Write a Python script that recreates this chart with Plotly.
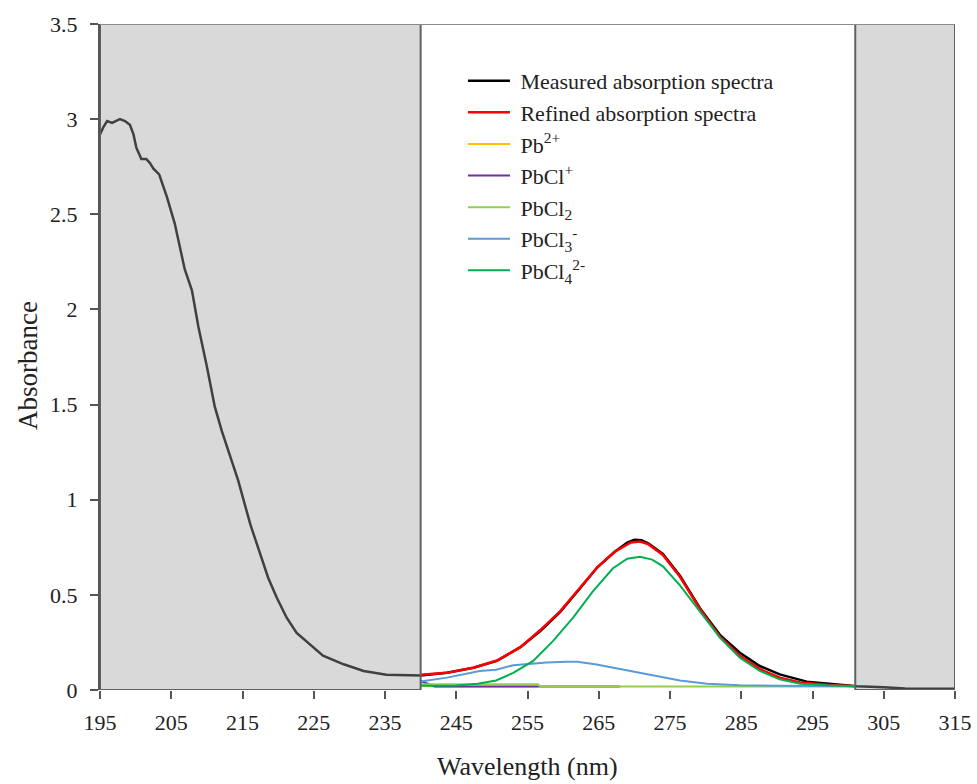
import plotly.graph_objects as go

# ---- data ----
meas_x = [195.0, 195.5, 196.0, 196.7, 197.2, 197.8, 198.5, 199.2, 199.7, 200.1, 200.8, 201.5,
          202.0, 202.5, 203.3, 204.4, 205.5, 206.9, 207.9, 208.8, 210.0, 211.1, 212.1, 213.2,
          214.4, 216.1, 217.5, 218.6, 219.8, 221.2, 222.6, 224.5, 226.3, 229.2, 232.0, 235.2,
          240.0, 243.7, 247.4, 250.7, 254.0, 256.8, 259.6, 262.5, 264.8, 267.2, 269.0, 270.0,
          271.0, 272.0, 274.0, 276.4, 279.2, 282.0, 284.8, 287.6, 290.4, 294.2, 297.9, 301.2,
          305.0, 308.0, 315.0]
meas_y = [2.92, 2.96, 2.99, 2.98, 2.99, 3.00, 2.99, 2.97, 2.92, 2.85, 2.79, 2.79,
          2.77, 2.74, 2.71, 2.59, 2.45, 2.21, 2.10, 1.91, 1.70, 1.49, 1.36, 1.24,
          1.10, 0.87, 0.71, 0.59, 0.486, 0.38, 0.30, 0.24, 0.18, 0.135, 0.10, 0.08,
          0.076, 0.091, 0.117, 0.153, 0.225, 0.31, 0.41, 0.54, 0.645, 0.725, 0.775, 0.79,
          0.787, 0.77, 0.715, 0.60, 0.43, 0.29, 0.196, 0.126, 0.082, 0.044, 0.03, 0.02,
          0.015, 0.008, 0.006]

ref_x = [240.0, 243.7, 247.4, 250.7, 254.0, 256.8, 259.6, 262.5, 264.8, 267.2, 269.5, 270.8,
         272.0, 274.0, 276.4, 279.2, 282.0, 284.8, 287.6, 290.4, 293.3, 297.0, 301.0]
ref_y = [0.08, 0.09, 0.117, 0.155, 0.225, 0.315, 0.415, 0.545, 0.645, 0.725, 0.775, 0.78,
         0.765, 0.71, 0.595, 0.425, 0.28, 0.18, 0.11, 0.065, 0.04, 0.027, 0.02]

pb_x = [240.0, 242.0, 256.4]
pb_y = [0.025, 0.019, 0.018]

pbcl_x = [240.0, 241.0, 242.0, 268.0]
pbcl_y = [0.047, 0.035, 0.019, 0.018]

pbcl2_x = [240.0, 256.5, 256.8, 301.0]
pbcl2_y = [0.03, 0.03, 0.019, 0.018]

pbcl3_x = [240.0, 243.7, 248.3, 250.6, 253.0, 257.7, 260.5, 262.0, 264.7, 269.3, 274.0, 276.4,
           280.2, 284.8, 290.0, 301.0]
pbcl3_y = [0.045, 0.065, 0.10, 0.107, 0.13, 0.145, 0.149, 0.148, 0.134, 0.10, 0.065, 0.05,
           0.033, 0.025, 0.022, 0.02]

pbcl4_x = [240.0, 245.0, 248.0, 250.6, 253.0, 255.8, 258.6, 261.4, 264.2, 267.0, 269.0, 270.8,
           272.5, 274.0, 276.4, 279.2, 282.0, 284.8, 287.6, 290.4, 293.3, 297.0, 301.0]
pbcl4_y = [0.022, 0.024, 0.033, 0.05, 0.09, 0.153, 0.258, 0.38, 0.52, 0.64, 0.69, 0.70,
           0.685, 0.65, 0.55, 0.41, 0.275, 0.17, 0.10, 0.056, 0.033, 0.025, 0.02]

x_ticks = list(range(195, 316, 10))
y_ticks = [0, 0.5, 1, 1.5, 2, 2.5, 3, 3.5]
y_tick_text = ["0", "0.5", "1", "1.5", "2", "2.5", "3", "3.5"]

shade_left = (195, 240)
shade_right = (301, 315)

FONT = "Liberation Serif"
GAP = " "

fig = go.Figure()
series = [
    ("Measured absorption spectra", meas_x, meas_y, "#000000", 2.5),
    ("Refined absorption spectra", ref_x, ref_y, "#ff0000", 2.5),
    ("Pb<sup>2+</sup>", pb_x, pb_y, "#ffc000", 2),
    ("PbCl<sup>+</sup>", pbcl_x, pbcl_y, "#7030a0", 2),
    ("PbCl<sub>2</sub>", pbcl2_x, pbcl2_y, "#92d050", 2),
    ("PbCl<sub>3</sub><sup>-</sup>", pbcl3_x, pbcl3_y, "#5b9bd5", 2),
    ("PbCl<sub>4</sub><sup>2-</sup>", pbcl4_x, pbcl4_y, "#00b050", 2),
]
for name, xs, ys, col, w in series:
    fig.add_trace(go.Scatter(x=xs, y=ys, mode="lines", name=GAP + name,
                             line=dict(color=col, width=w)))

for x0, x1 in (shade_left, shade_right):
    fig.add_shape(type="rect", xref="x", yref="y", x0=x0, x1=x1, y0=0, y1=3.5,
                  fillcolor="rgba(160,160,160,0.4)", line=dict(color="#626262", width=2),
                  layer="above")
fig.add_shape(type="line", xref="x", yref="y", x0=195, x1=315, y0=3.5, y1=3.5,
              line=dict(color="#8c8c8c", width=2), layer="above")

fig.add_annotation(text="Wavelength (nm)", xref="paper", yref="paper", x=0.5, y=0,
                   yshift=-76, showarrow=False, xanchor="center", yanchor="middle",
                   font=dict(family=FONT, size=26, color="#222222"))
fig.add_annotation(text="Absorbance", xref="paper", yref="paper", x=0, y=0.5,
                   xshift=-72, yshift=-9, textangle=-90, showarrow=False,
                   xanchor="center", yanchor="middle",
                   font=dict(family=FONT, size=27, color="#222222"))

fig.update_layout(
    width=977, height=784,
    margin=dict(l=100, r=22, t=24, b=94, autoexpand=False),
    paper_bgcolor="white", plot_bgcolor="white",
    font=dict(family=FONT, size=22, color="#222222"),
    showlegend=True,
    legend=dict(x=0.4245, y=0.946, xanchor="left", yanchor="top",
                bgcolor="rgba(0,0,0,0)", font=dict(family=FONT, size=22, color="#222222"),
                traceorder="normal", itemwidth=42),
    xaxis=dict(range=[195, 315], tickvals=x_ticks, ticktext=[str(t) for t in x_ticks],
               showgrid=False, zeroline=False, showline=False, automargin=False,
               ticks="outside", ticklen=8, tickwidth=1.5, tickcolor="#555555",
               ticklabelstandoff=5, tickfont=dict(size=22)),
    yaxis=dict(range=[0, 3.5], tickvals=y_ticks, ticktext=y_tick_text,
               showgrid=False, zeroline=False, showline=True, linecolor="#555555", linewidth=2,
               automargin=False,
               ticks="outside", ticklen=8, tickwidth=1.5, tickcolor="#555555",
               ticklabelstandoff=8, tickfont=dict(size=22)),
)

fig.write_html("out.html")
